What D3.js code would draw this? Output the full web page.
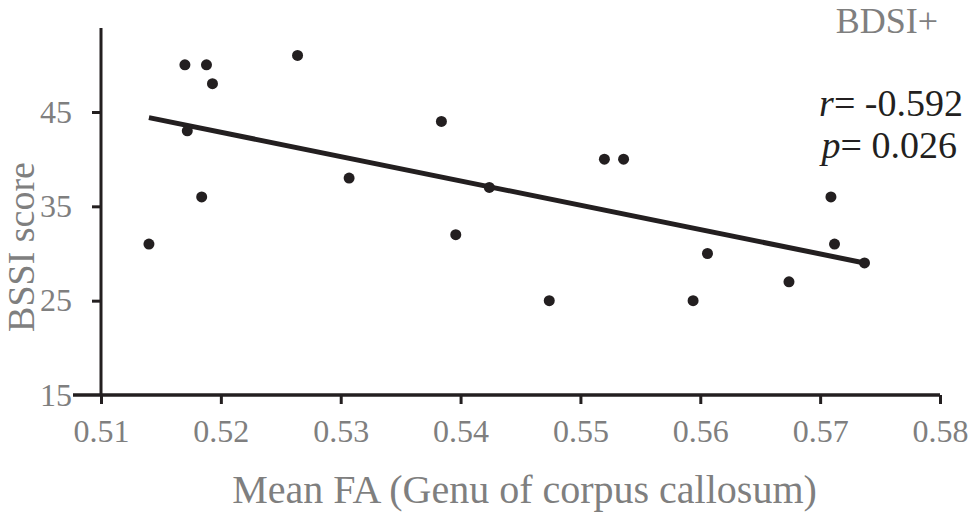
<!DOCTYPE html>
<html>
<head>
<meta charset="utf-8">
<script src="https://cdn.jsdelivr.net/npm/d3@7"></script>
<style>
  html, body { margin: 0; padding: 0; background: #fff; }
  svg { display: block; }
  text { font-family: "Liberation Serif", "Times New Roman", serif; }
</style>
</head>
<body>
<svg id="chart" width="969" height="513"></svg>
<script>
// ---- data ----
const meanFA = [0.5140, 0.5170, 0.5188, 0.5193, 0.5172, 0.5184, 0.5264, 0.5307, 0.5384, 0.5396,
                0.5424, 0.5520, 0.5536, 0.5474, 0.5606, 0.5594, 0.5674, 0.5709, 0.5712, 0.5737];
const bssiScore = [31, 50, 50, 48, 43, 36, 51, 38, 44, 32,
                   37, 40, 40, 25, 30, 25, 27, 36, 31, 29];
const trendX = [0.5140, 0.5737];
const trendY = [44.4, 29.0];
const xTicks = [0.51, 0.52, 0.53, 0.54, 0.55, 0.56, 0.57, 0.58];
const yTicks = [15, 25, 35, 45];
const yAxisTop = 53.9;
const groupLabel = "BDSI+";
const rValue = "-0.592";
const pValue = "0.026";
const xTitle = "Mean FA (Genu of corpus callosum)";
const yTitle = "BSSI score";

// ---- layout ----
const svg = d3.select("#chart");
const axisColor = "#231f20";
const grey = "#7f7f7f";

const x = d3.scaleLinear().domain([0.51, 0.58]).range([101, 940]);
const y = d3.scaleLinear().domain([15, 45]).range([395, 112]);

// x axis
const xAxis = svg.append("g").attr("transform", `translate(0,${y(15)})`)
  .call(d3.axisBottom(x).tickValues(xTicks).tickFormat(d3.format(".2f")).tickSizeInner(9).tickSizeOuter(0).tickPadding(15));
xAxis.select(".domain").attr("stroke", axisColor).attr("stroke-width", 3.5).attr("d", `M${x(0.51)-28},0H${x(0.58)}`);
xAxis.selectAll(".tick line").attr("stroke", axisColor).attr("stroke-width", 3);
xAxis.selectAll(".tick text").attr("fill", grey).attr("font-size", 32)
  .style("font-family", "'Liberation Serif', serif");

// y axis
const yAxis = svg.append("g").attr("transform", `translate(${x(0.51)},0)`)
  .call(d3.axisLeft(y).tickValues(yTicks).tickSizeInner(9).tickSizeOuter(0).tickPadding(20));
yAxis.select(".domain").attr("stroke", axisColor).attr("stroke-width", 3)
  .attr("d", `M0,${y(yAxisTop)}V${y(15)}`);
yAxis.selectAll(".tick line").attr("stroke", axisColor).attr("stroke-width", 3);
yAxis.selectAll(".tick text").attr("fill", grey).attr("font-size", 32)
  .style("font-family", "'Liberation Serif', serif");
yAxis.selectAll(".tick").filter(d => d === 15).select("line").remove();

// trend line
svg.append("line")
  .attr("x1", x(trendX[0])).attr("y1", y(trendY[0]))
  .attr("x2", x(trendX[1])).attr("y2", y(trendY[1]))
  .attr("stroke", axisColor).attr("stroke-width", 5);

// points
svg.append("g").selectAll("circle")
  .data(meanFA.map((v, i) => [v, bssiScore[i]]))
  .join("circle")
  .attr("cx", d => x(d[0])).attr("cy", d => y(d[1]))
  .attr("r", 5.5).attr("fill", axisColor);

// titles
svg.append("text").attr("x", (x(0.51) + x(0.58)) / 2 + 4).attr("y", 503)
  .attr("text-anchor", "middle").attr("font-size", 40).attr("fill", grey).text(xTitle);
svg.append("text").attr("transform", `translate(34,${247}) rotate(-90)`)
  .attr("text-anchor", "middle").attr("font-size", 38).attr("fill", grey).text(yTitle);

svg.append("text").attr("x", 938).attr("y", 33).attr("text-anchor", "end")
  .attr("font-size", 36).attr("fill", grey).text(groupLabel);

const rt = svg.append("text").attr("x", 963).attr("y", 116).attr("text-anchor", "end")
  .attr("font-size", 38).attr("fill", axisColor);
rt.append("tspan").attr("font-style", "italic").text("r");
rt.append("tspan").text("= " + rValue);
const pt = svg.append("text").attr("x", 957).attr("y", 158).attr("text-anchor", "end")
  .attr("font-size", 38).attr("fill", axisColor);
pt.append("tspan").attr("font-style", "italic").text("p");
pt.append("tspan").text("= " + pValue);
</script>
</body>
</html>
